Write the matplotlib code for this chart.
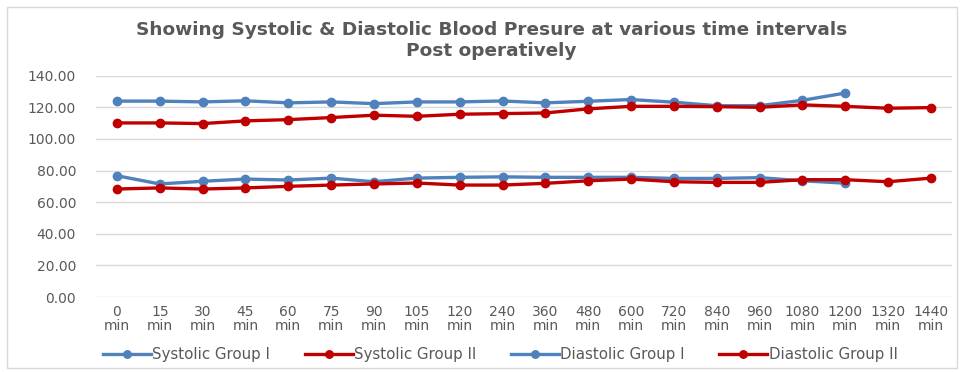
import matplotlib.pyplot as plt
from matplotlib.patches import Rectangle

# time points along the x axis
times = ['0', '15', '30', '45', '60', '75', '90', '105', '120', '240',
         '360', '480', '600', '720', '840', '960', '1080', '1200', '1320', '1440']
time_labels = [t + '\nmin' for t in times]

# blood pressure readings (mmHg)
# group I stops at 1200 min
systolic_g1 = [123.9, 123.9, 123.4, 124.1, 122.8, 123.4, 122.3, 123.4, 123.4, 124.0,
               122.8, 123.8, 124.9, 123.2, 121.0, 121.0, 124.4, 129.0]
systolic_g2 = [110.1, 110.1, 109.7, 111.4, 112.2, 113.5, 115.0, 114.3, 115.6, 116.0,
               116.4, 119.0, 120.6, 120.6, 120.4, 120.0, 121.5, 120.6, 119.4, 119.8]
diastolic_g1 = [76.7, 71.5, 73.2, 74.6, 74.0, 75.2, 72.9, 75.2, 75.7, 76.0,
                75.7, 75.7, 75.7, 75.0, 75.0, 75.5, 73.5, 72.0]
diastolic_g2 = [68.3, 69.0, 68.3, 69.0, 70.0, 70.8, 71.5, 72.1, 70.8, 70.8,
                71.9, 73.5, 74.6, 72.9, 72.5, 72.5, 74.2, 74.2, 72.9, 75.2]

BLUE = '#4F81BD'
RED = '#C00000'
GREY_TEXT = '#595959'

plt.rcParams['font.family'] = ['DejaVu Sans']

fig = plt.figure(figsize=(9.6, 3.72), dpi=100)
ax = fig.add_axes([0.0995, 0.2016, 0.8925, 0.595])

x_all = list(range(len(times)))

ax.plot(x_all[:len(systolic_g1)], systolic_g1, color=BLUE, lw=2.4, marker='o', ms=6,
        label='Systolic Group I')
ax.plot(x_all, systolic_g2, color=RED, lw=2.4, marker='o', ms=6,
        label='Systolic Group II')
ax.plot(x_all[:len(diastolic_g1)], diastolic_g1, color=BLUE, lw=2.4, marker='o', ms=6,
        label='Diastolic Group I')
ax.plot(x_all, diastolic_g2, color=RED, lw=2.4, marker='o', ms=6,
        label='Diastolic Group II')

ax.set_xlim(-0.5, len(times) - 0.5)
ax.set_ylim(0, 140)
ax.set_yticks(range(0, 141, 20))
ax.set_yticklabels(['%.2f' % v for v in range(0, 141, 20)])
ax.set_xticks(x_all)
ax.set_xticklabels(time_labels, linespacing=0.95)
ax.tick_params(length=0, labelsize=10, labelcolor=GREY_TEXT)
ax.tick_params(axis='y', pad=14)
ax.tick_params(axis='x', pad=6)

ax.grid(axis='y', color='#D9D9D9', lw=1)
ax.set_axisbelow(True)
for side in ['top', 'right', 'left', 'bottom']:
    ax.spines[side].set_visible(False)

fig.text(0.512, 0.892, 'Showing Systolic & Diastolic Blood Presure at various time intervals\n'
         'Post operatively', ha='center', va='center', fontsize=13.3, fontweight='bold',
         color=GREY_TEXT, linespacing=1.2)

fig.legend(loc='center', bbox_to_anchor=(0.521, 0.046), ncol=4, frameon=False,
           fontsize=10.8, labelcolor=GREY_TEXT, handlelength=3.2, handletextpad=0.1,
           columnspacing=2.3, markerscale=0.9)

# thin frame around the whole chart like the spreadsheet chart area
fig.patches.append(Rectangle((0.007, 0.012), 0.99, 0.97, transform=fig.transFigure,
                             fill=False, edgecolor='#D9D9D9', lw=1))

fig.savefig('out.png', dpi=100)
